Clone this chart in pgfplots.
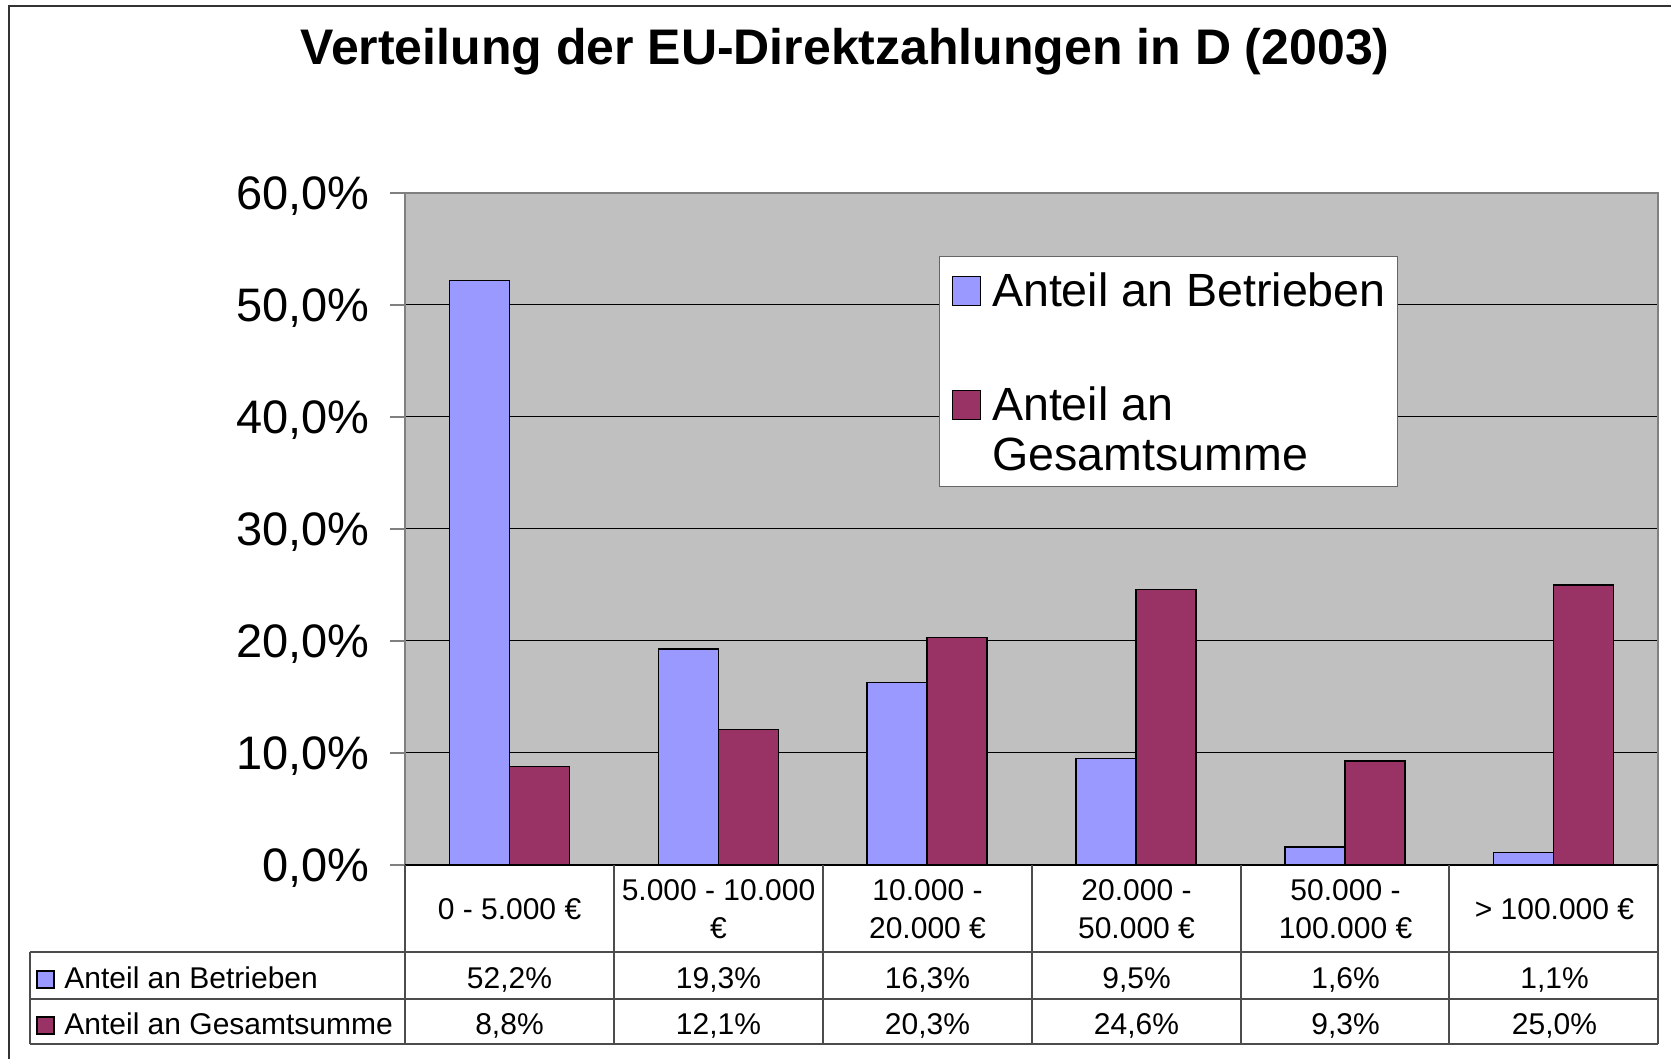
\documentclass[border=0pt]{standalone}
\usepackage{fontspec}
\setmainfont{Liberation Sans}
\usepackage{pgfplots}
\usepackage{pgfplotstable}
\pgfplotsset{compat=1.18}
\definecolor{bblue}{RGB}{153,153,255}
\definecolor{bred}{RGB}{153,51,102}
\definecolor{pgray}{RGB}{192,192,192}
\definecolor{lgray}{RGB}{128,128,128}

\pgfplotstableread{
x betr ges
0 52.2 8.8
1 19.3 12.1
2 16.3 20.3
3 9.5 24.6
4 1.6 9.3
5 1.1 25.0
}\datatable

\begin{document}
\begin{tikzpicture}
\useasboundingbox (0,0) rectangle (835.5pt,529.5pt);
\fill[white] (0,0) rectangle (835.5pt,529.5pt);
\begin{axis}[
  at={(202.5pt,97pt)}, anchor=south west,
  scale only axis, width=626.5pt, height=336pt,
  xmin=-0.5, xmax=5.5, ymin=0, ymax=60,
  axis background/.style={fill=pgray},
  axis line style={draw=lgray, line width=1pt},
  xtick=\empty,
  ytick={0,10,20,30,40,50,60},
  ytick pos=left,
  tick align=outside,
  major tick length=7.5pt,
  ytick style={draw=lgray, line width=0.75pt},
  ymajorgrids,
  grid style={draw=black, line width=0.5pt},
  /pgf/number format/assume math mode=true,
  yticklabel={\pgfmathprintnumber[fixed,fixed zerofill,precision=1,use comma]{\tick}\%},
  yticklabel style={font=\fontsize{23.5}{28}\selectfont, anchor=east, inner sep=0pt, xshift=-10pt, yshift=-1.5pt},
  legend style={
    at={(rel axis cs:0.4262,0.9062)}, anchor=north west,
    draw=black!60, line width=0.5pt, fill=white,
    font=\fontsize{23.3}{25}\selectfont,
    inner xsep=6pt, inner ysep=8pt,
    row sep=40pt, column sep=5.5pt,
    cells={anchor=base west, align=left},
    nodes={inner sep=0pt, text depth=},
  },
]
\addplot[ybar, bar width=30pt, bar shift=-15pt, fill=bblue, draw=black, line width=0.75pt,
  legend image code/.code={\draw[fill=bblue, draw=black, line width=0.75pt] (0pt,0.5pt) rectangle (14pt,15pt);}] table[x=x, y=betr] {\datatable};
\addlegendentry{Anteil an Betrieben}
\addplot[ybar, bar width=30pt, bar shift=15pt, fill=bred, draw=black, line width=0.75pt,
  legend image code/.code={\draw[fill=bred, draw=black, line width=0.75pt] (0pt,25.5pt) rectangle (14pt,40pt);}] table[x=x, y=ges] {\datatable};
\addlegendentry{Anteil an\\Gesamtsumme}
\end{axis}

\begin{scope}[x=0.5pt, y=-0.5pt, shift={(0pt,529.5pt)}]
  % outer frame
  \draw[black!80, line width=0.75pt] (9,1080) -- (9,6) -- (1690,6);
  % title
  \node[anchor=base, inner sep=0pt, font=\bfseries\fontsize{25}{30}\selectfont] at (845,65) {Verteilung der EU-Direktzahlungen in D (2003)};
  % bottom axis line
  \draw[black, line width=0.75pt] (405,865) -- (1658,865);
  % table grid
  \draw[black!70, line width=0.6pt] (30,952) -- (1658,952) (30,999) -- (1658,999) (30,1044) -- (1658,1044) (30,952) -- (30,1044);
  \foreach \xx in {405,614,823,1032,1241,1449,1658} \draw[black!70, line width=0.6pt] (\xx,865) -- (\xx,1044);
  % category labels
  \begin{scope}[every node/.style={font=\fontsize{15}{19}\selectfont, align=center, inner sep=0pt}]
    \node[anchor=center] at (509.5,909) {0 - 5.000 €};
    \node[anchor=center] at (718.5,909) {5.000 - 10.000\\€};
    \node[anchor=center] at (927.5,909) {10.000 -\\20.000 €};
    \node[anchor=center] at (1136.5,909) {20.000 -\\50.000 €};
    \node[anchor=center] at (1345.5,909) {50.000 -\\100.000 €};
    \node[anchor=center] at (1554.5,909) {> 100.000 €};
    % values row 1
    \node[anchor=base] at (509.5,989) {52,2\%};
    \node[anchor=base] at (718.5,989) {19,3\%};
    \node[anchor=base] at (927.5,989) {16,3\%};
    \node[anchor=base] at (1136.5,989) {9,5\%};
    \node[anchor=base] at (1345.5,989) {1,6\%};
    \node[anchor=base] at (1554.5,989) {1,1\%};
    % values row 2
    \node[anchor=base] at (509.5,1035) {8,8\%};
    \node[anchor=base] at (718.5,1035) {12,1\%};
    \node[anchor=base] at (927.5,1035) {20,3\%};
    \node[anchor=base] at (1136.5,1035) {24,6\%};
    \node[anchor=base] at (1345.5,1035) {9,3\%};
    \node[anchor=base] at (1554.5,1035) {25,0\%};
    % row labels
    \node[anchor=base west] at (64,989) {Anteil an Betrieben};
    \node[anchor=base west] at (64,1035) {Anteil an Gesamtsumme};
  \end{scope}
  \draw[fill=bblue, draw=black, line width=0.75pt] (37,971) rectangle (54,988);
  \draw[fill=bred, draw=black, line width=0.75pt] (37,1017) rectangle (54,1034);
\end{scope}
\end{tikzpicture}
\end{document}
